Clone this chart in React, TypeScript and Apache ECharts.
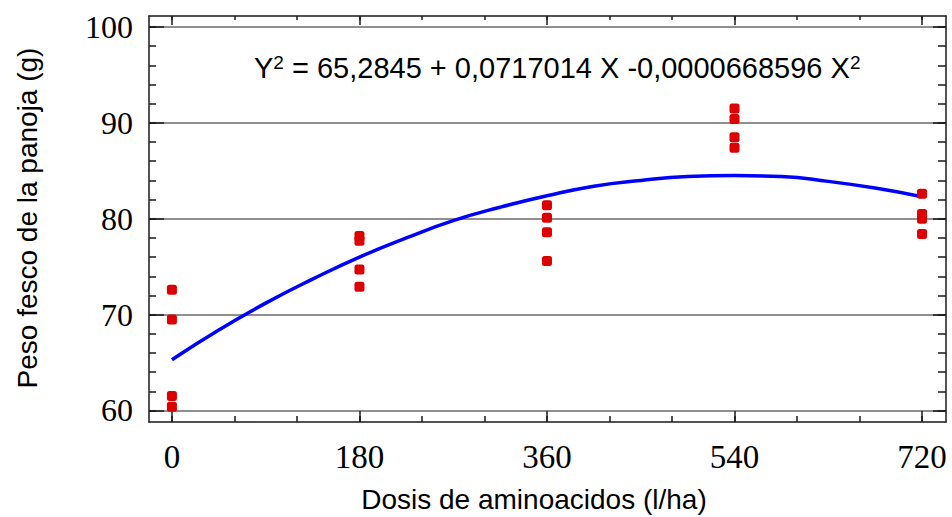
import React, { useEffect, useRef } from "react";
import * as echarts from "echarts";

// Doses (x) and observed fresh panicle weights (g)
const doses = [0, 180, 360, 540, 720];
const obsDose0 = [72.6, 69.5, 61.5, 60.4];
const obsDose180 = [78.2, 77.7, 74.7, 72.9];
const obsDose360 = [81.4, 80.1, 78.6, 75.6];
const obsDose540 = [91.5, 90.4, 88.5, 87.4];
const obsDose720 = [82.6, 80.5, 80.0, 78.4];

// Fitted curve
const curveX = [0, 45, 90, 135, 180, 225, 270, 315, 360, 405, 450, 495, 540, 585, 630, 675, 720];
const curveY = [65.3, 68.4, 71.2, 73.7, 76.0, 78.0, 79.8, 81.2, 82.4, 83.4, 84.0, 84.4, 84.5, 84.4, 83.9, 83.2, 82.3];

// Tick values
const xMajorTicks = [0, 180, 360, 540, 720];
const xMinorTicks = [0, 60, 120, 180, 240, 300, 360, 420, 480, 540, 600, 660, 720];
const yMajorTicks = [60, 70, 80, 90, 100];
const yMinorTicks = [60, 62, 64, 66, 68, 70, 72, 74, 76, 78, 80, 82, 84, 86, 88, 90, 92, 94, 96, 98, 100];

const equationText = "Y{s|2} = 65,2845 + 0,0717014 X -0,0000668596 X{s|2}";
const xTitle = "Dosis de aminoacidos (l/ha)";
const yTitle = "Peso fesco de la panoja (g)";

const X_MIN = -22;
const X_MAX = 743;
const Y_MIN = 58.8;
const Y_MAX = 101.15;

export default function App() {
  const ref = useRef<HTMLDivElement>(null);

  useEffect(() => {
    if (!ref.current) return;
    const chart = echarts.init(ref.current, null, { renderer: "svg" });

    const obsGroups = [obsDose0, obsDose180, obsDose360, obsDose540, obsDose720];
    const scatterData: number[][] = [];
    obsGroups.forEach((g, i) => g.forEach((v) => scatterData.push([doses[i], v])));
    const curveData = curveX.map((x, i) => [x, curveY[i]]);

    const lineColor = "#1a1a1a";

    const xAxisBase = (position: "top" | "bottom", ticks: number[], len: number, showLine: boolean, showLabel: boolean) => ({
      type: "value",
      position,
      min: X_MIN,
      max: X_MAX,
      axisLine: { show: showLine, onZero: false, lineStyle: { color: lineColor, width: 1.5 } },
      axisTick: { show: true, inside: true, length: len, customValues: ticks, lineStyle: { color: lineColor, width: 1.5 } },
      axisLabel: {
        show: showLabel,
        customValues: xMajorTicks,
        margin: 18,
        fontFamily: "Liberation Serif",
        fontSize: 33,
        color: "#000",
      },
      splitLine: { show: false },
    });

    const yAxisBase = (position: "left" | "right", ticks: number[], len: number, showLine: boolean, showLabel: boolean, showSplit: boolean) => ({
      type: "value",
      position,
      min: Y_MIN,
      max: Y_MAX,
      axisLine: { show: showLine, onZero: false, lineStyle: { color: lineColor, width: 1.5 } },
      axisTick: { show: true, inside: true, length: len, customValues: ticks, lineStyle: { color: lineColor, width: 1.5 } },
      axisLabel: {
        show: showLabel,
        customValues: yMajorTicks,
        margin: 16,
        fontFamily: "Liberation Serif",
        fontSize: 32,
        color: "#000",
      },
      splitLine: { show: showSplit, lineStyle: { color: "#8f8f8f", width: 2 } },
    });

    chart.setOption({
      animation: false,
      backgroundColor: "#fff",
      grid: { left: 149, right: 6, top: 16, bottom: 95, containLabel: false, outerBoundsMode: "none" },
      xAxis: [
        xAxisBase("bottom", xMajorTicks, 11, true, true),
        xAxisBase("bottom", xMinorTicks, 6, false, false),
        xAxisBase("top", xMajorTicks, 9, true, false),
        xAxisBase("top", xMinorTicks, 4, false, false),
      ],
      yAxis: [
        yAxisBase("left", yMajorTicks, 15, true, true, true),
        yAxisBase("left", yMinorTicks, 7, false, false, false),
        yAxisBase("right", yMajorTicks, 13, true, false, false),
        yAxisBase("right", yMinorTicks, 8, false, false, false),
      ],
      series: [
        {
          type: "line",
          xAxisIndex: 0,
          yAxisIndex: 0,
          data: curveData,
          smooth: true,
          showSymbol: false,
          lineStyle: { color: "#0000ff", width: 3.5 },
          z: 3,
        },
        {
          type: "scatter",
          xAxisIndex: 0,
          yAxisIndex: 0,
          data: scatterData,
          symbol: "roundRect",
          symbolSize: [10, 10],
          itemStyle: { color: "#dd0000", opacity: 1 },
          z: 4,
        },
      ],
      graphic: [
        {
          type: "text",
          x: 254,
          y: 53,
          style: {
            text: equationText,
            fontFamily: "Liberation Sans",
            fontSize: 29,
            fill: "#000",
            rich: {
              s: { fontSize: 19, verticalAlign: "top", fontFamily: "Liberation Sans", fill: "#000" },
            },
          },
        },
        {
          type: "text",
          x: 534,
          y: 499,
          style: {
            text: xTitle,
            fontFamily: "Liberation Sans",
            fontSize: 28,
            fill: "#000",
            align: "center",
            verticalAlign: "middle",
          },
        },
        {
          type: "text",
          x: 27,
          y: 218,
          rotation: Math.PI / 2,
          style: {
            text: yTitle,
            fontFamily: "Liberation Sans",
            fontSize: 28,
            fill: "#000",
            align: "center",
            verticalAlign: "middle",
          },
        },
      ],
    });

    return () => chart.dispose();
  }, []);

  return <div ref={ref} style={{ width: 952, height: 517, position: "absolute", left: 0, top: 0 }} />;
}
